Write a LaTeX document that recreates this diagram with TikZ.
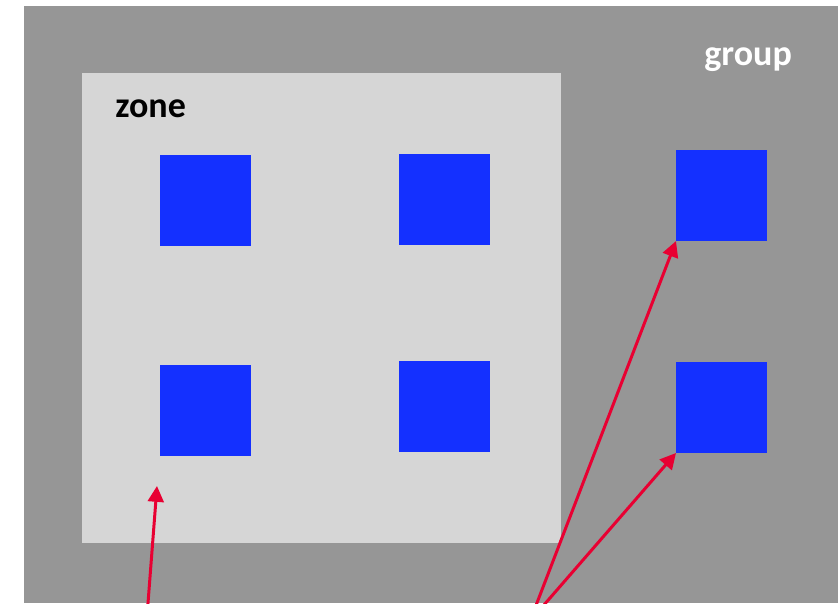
\documentclass[tikz,border=0pt]{standalone}
\usepackage{fontspec}
\setmainfont{Carlito}
\definecolor{grpgray}{RGB}{150,150,150}
\definecolor{zonegray}{RGB}{214,214,214}
\definecolor{itemblue}{RGB}{20,48,255}
\definecolor{ptrred}{RGB}{232,0,50}
\usetikzlibrary{arrows.meta}

\begin{document}
\begin{tikzpicture}[x=0.02cm, y=-0.02cm,
  item/.style={fill=itemblue, minimum size=1.82cm, inner sep=0pt, outer sep=0pt},
  label/.style={font=\bfseries\fontsize{20.5}{24}\selectfont, inner sep=0pt, anchor=base west},
  ptr/.style={-{Triangle[length=9pt,width=9pt]}, ptrred, line width=1.7pt}]
\useasboundingbox (0,0) rectangle (838,603);
\clip (0,0) rectangle (838,603);

% Gray group background
\fill[grpgray] (24,6) rectangle (838,603);
\node[label, text=white] (grp) at (704,65) {group};

% Light zone inside the group
\fill[zonegray] (82,73) rectangle (561,543);
\node[label, text=black] (zn) at (115,117) {zone};

% Blue items
\node[item] (a1) at (205.5,200.5) {};
\node[item] (a2) at (444.5,199.5) {};
\node[item] (a3) at (721.5,195.5) {};
\node[item] (b1) at (205.5,410.5) {};
\node[item] (b2) at (444.5,406.5) {};
\node[item] (b3) at (721.5,407.5) {};

% Red pointers from below
\coordinate (src1) at (147,616);
\coordinate (tgt1) at (157,486);
\coordinate (src2) at (530,621);
\draw[ptr] (src1) -- (tgt1);
\draw[ptr] (src2) -- (a3.south west);
\draw[ptr] (src2) -- (b3.south west);
\end{tikzpicture}
\end{document}
